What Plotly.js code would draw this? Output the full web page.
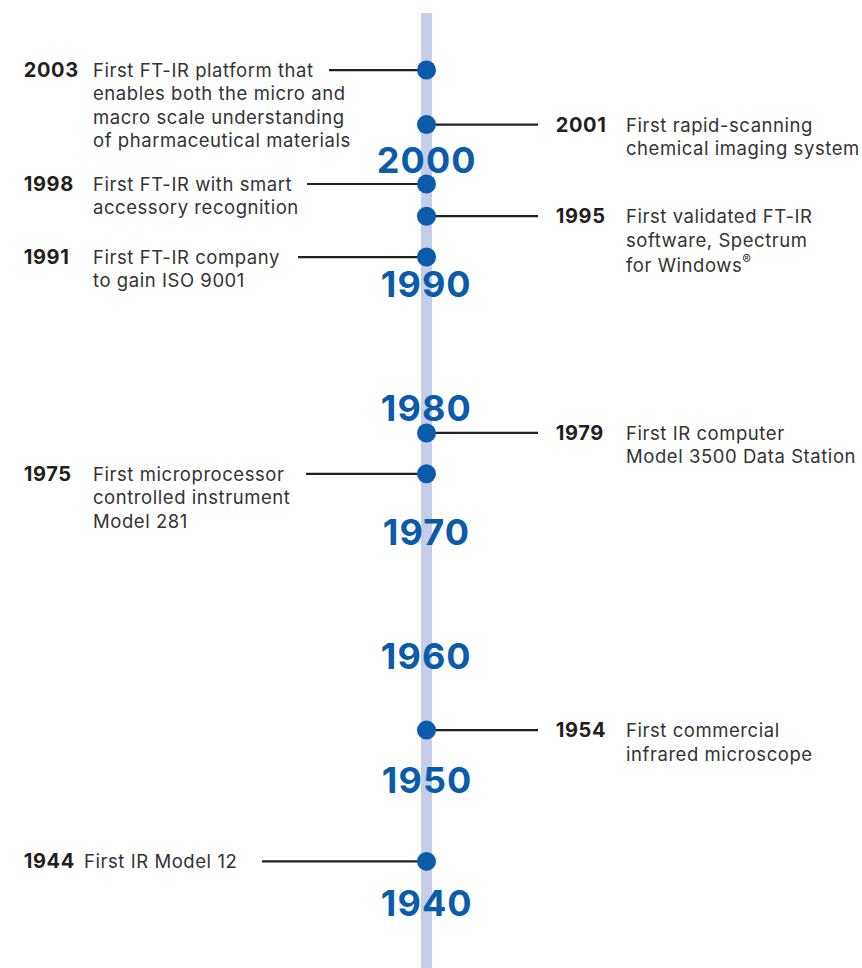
<!DOCTYPE html>
<html>
<head>
<meta charset="utf-8">
<script src="https://cdn.plot.ly/plotly-3.0.1.min.js"></script>
<style>
html,body{margin:0;padding:0;background:#fff;}
#chart{width:862px;height:968px;}
#chart .annotation-text{letter-spacing:0.03em;}
</style>
</head>
<body>
<div id="chart"></div>
<script>
// ---- data ----
var eventYears = ["2003", "2001", "1998", "1995", "1991", "1979", "1975", "1954", "1944"];
var dotValues = [2007.3, 2002.9, 1998.1, 1995.5, 1992.2, 1978.0, 1974.7, 1954.0, 1943.4];
var eventSides = ["left", "right", "left", "right", "left", "right", "left", "right", "left"];
var eventTexts = [
  "First FT-IR platform that<br>enables both the micro and<br>macro scale understanding<br>of pharmaceutical materials",
  "First rapid-scanning<br>chemical imaging system",
  "First FT-IR with smart<br>accessory recognition",
  "First validated FT-IR<br>software, Spectrum<br>for Windows<sup>®</sup>",
  "First FT-IR company<br>to gain ISO 9001",
  "First IR computer<br>Model 3500 Data Station",
  "First microprocessor<br>controlled instrument<br>Model 281",
  "First commercial<br>infrared microscope",
  "First IR Model 12"
];
var decades = [1940, 1950, 1960, 1970, 1980, 1990, 2000];

// ---- layout helpers (pixel-based x axis) ----
var axisX = 426.5;
var leftLineStart = {"2003": 329, "1998": 307, "1991": 298, "1975": 306, "1944": 262};
var rightLineEnd = 538;
var leftYearX = 23, leftTextX = 91, rightYearX = 555, rightTextX = 624;
var lineStep = 23.4;
var blue = "#0a5cab";
var ink = "#231f20";
var textInk = "#333333";
var fontFam = "Inter, Liberation Sans, Arial, sans-serif";

var traces = [];
var annotations = [];

eventYears.forEach(function (yr, i) {
  var v = dotValues[i];
  var left = eventSides[i] === "left";
  var x0 = left ? leftLineStart[yr] : axisX;
  var x1 = left ? axisX : rightLineEnd;
  traces.push({
    type: "scatter", mode: "lines", x: [x0, x1], y: [v, v],
    line: {color: ink, width: 2.2}, hoverinfo: "skip", showlegend: false
  });
  annotations.push({
    x: left ? leftYearX : rightYearX, y: v, xref: "x", yref: "y",
    text: "<b>" + yr + "</b>", showarrow: false, xanchor: "left", yanchor: "middle",
    font: {family: fontFam, size: 20, color: ink}
  });
  var tx = left ? (yr === "1944" ? 82 : leftTextX) : rightTextX;
  eventTexts[i].split("<br>").forEach(function (ln, k) {
    annotations.push({
      x: tx, y: v, xref: "x", yref: "y",
      text: ln, showarrow: false, xanchor: "left", yanchor: "middle", align: "left",
      yshift: -k * lineStep,
      font: {family: fontFam, size: 18.5, color: textInk}
    });
  });
});

traces.push({
  type: "scatter", mode: "markers",
  x: dotValues.map(function () { return axisX; }), y: dotValues,
  text: eventYears,
  marker: {size: 19, color: blue, line: {width: 0}},
  hoverinfo: "text", showlegend: false
});

decades.forEach(function (d) {
  annotations.push({
    x: axisX, y: d, xref: "x", yref: "y",
    text: "<b>" + d + "</b>", showarrow: false, xanchor: "center", yanchor: "middle",
    yshift: 0,
    font: {family: fontFam, size: 36, color: blue}
  });
});

var layout = {
  width: 862, height: 968,
  margin: {l: 0, r: 0, t: 0, b: 0},
  paper_bgcolor: "#ffffff", plot_bgcolor: "#ffffff",
  showlegend: false,
  xaxis: {range: [0, 862], visible: false, fixedrange: true},
  yaxis: {range: [1934.79, 2012.96], visible: false, fixedrange: true},
  shapes: [{
    type: "rect", xref: "x", yref: "paper",
    x0: 421, x1: 432, y0: 0, y1: 1 - 13 / 968,
    fillcolor: "#c5cde9", line: {width: 0}, layer: "below"
  }],
  annotations: annotations
};

Plotly.newPlot("chart", traces, layout, {displayModeBar: false, staticPlot: true});
</script>
</body>
</html>
